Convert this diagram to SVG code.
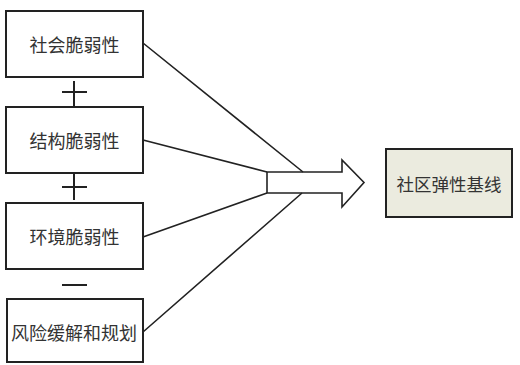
<svg xmlns="http://www.w3.org/2000/svg" width="520" height="365" viewBox="0 0 520 365">
<style>
.box{fill:#fff;stroke:#222;stroke-width:2}
.res{fill:#ebebdf;stroke:#222;stroke-width:2}
.t{font-family:"Noto Sans CJK SC","Liberation Sans",sans-serif;font-size:18px;fill:#333;text-anchor:middle;dominant-baseline:central}
.ln{stroke:#222;stroke-width:1.6;fill:none}
.op{stroke:#222;stroke-width:2;fill:none}
</style>
<rect width="520" height="365" fill="#fff"/>
<g id="n1"><rect class="box" x="6" y="11" width="137" height="66"/><text class="t" x="74.5" y="44">社会脆弱性</text></g>
<g id="n2"><rect class="box" x="6" y="107" width="137" height="66"/><text class="t" x="74.5" y="140">结构脆弱性</text></g>
<g id="n3"><rect class="box" x="6" y="203" width="137" height="66"/><text class="t" x="74.5" y="236">环境脆弱性</text></g>
<g id="n4"><rect class="box" x="7" y="299" width="136" height="63"/><text class="t" x="74" y="332">风险缓解和规划</text></g>
<g id="n5"><rect class="res" x="386" y="149" width="126" height="68"/><text class="t" x="449" y="183" style="font-size:17.5px">社区弹性基线</text></g>
<g id="ops">
<path class="op" d="M62 92H87M74 81V107"/>
<path class="op" d="M62 187H87M74 173V200"/>
<path class="op" d="M62 285H87"/>
</g>
<g id="connectors">
<path class="ln" d="M143 43L303 172M143 140L267 172M143 237L267 193M143 332L302 193"/>
<path class="ln" d="M267 172H342V160L364 182.5L342 207V193H267Z" fill="#fff"/>
</g>
</svg>
